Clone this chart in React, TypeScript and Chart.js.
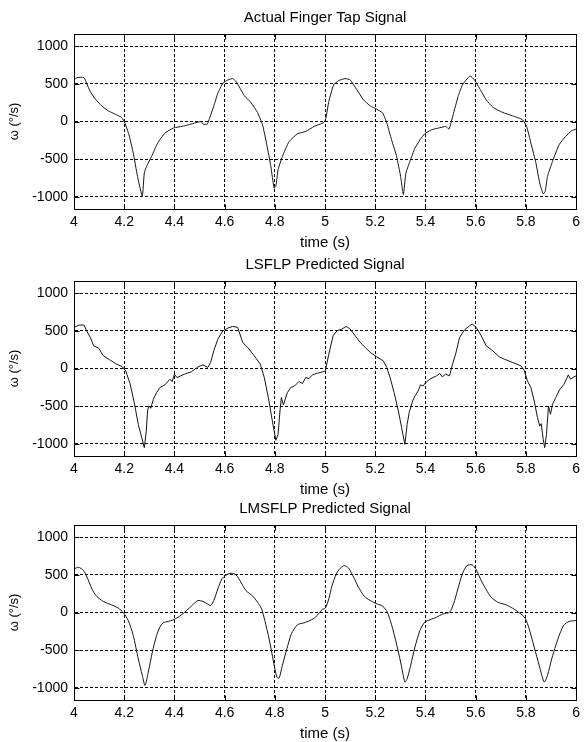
import React, { useEffect, useRef } from 'react';
import { Chart, registerables } from 'chart.js';

Chart.register(...registerables);

const xTicks = [4, 4.2, 4.4, 4.6, 4.8, 5, 5.2, 5.4, 5.6, 5.8, 6];
const yTicks = [-1000, -500, 0, 500, 1000];
const titles = ['Actual Finger Tap Signal', 'LSFLP Predicted Signal', 'LMSFLP Predicted Signal'];
const xLabel = 'time (s)';
const yLabel = 'ω (°/s)';

const actualT = [
  4.000, 4.012, 4.040, 4.050, 4.065, 4.082, 4.110, 4.137, 4.164, 4.190,
  4.203, 4.219, 4.236, 4.253, 4.272, 4.280, 4.289, 4.309, 4.333, 4.362,
  4.395, 4.441, 4.480, 4.507, 4.514, 4.531, 4.540, 4.557, 4.573, 4.593,
  4.613, 4.632, 4.646, 4.665, 4.679, 4.705, 4.731, 4.751, 4.768, 4.784,
  4.797, 4.804, 4.813, 4.830, 4.857, 4.890, 4.923, 4.956, 4.995, 5.003,
  5.015, 5.034, 5.054, 5.080, 5.100, 5.127, 5.153, 5.180, 5.206, 5.230,
  5.246, 5.265, 5.285, 5.301, 5.312, 5.322, 5.338, 5.358, 5.378, 5.397,
  5.424, 5.450, 5.481, 5.494, 5.510, 5.530, 5.547, 5.562, 5.578, 5.595,
  5.615, 5.642, 5.668, 5.708, 5.747, 5.787, 5.803, 5.820, 5.840, 5.855,
  5.869, 5.877, 5.886, 5.906, 5.932, 5.958, 5.982, 6.000,
];
const actualW = [
  551, 582, 582, 507, 397, 309, 207, 141, 97, 53,
  -22, -176, -419, -728, -992, -684, -595, -463, -287, -154,
  -88, -57, -22, 0, -35, -35, 44, 207, 375, 507,
  551, 569, 529, 419, 340, 251, 119, -44, -309, -595,
  -882, -860, -640, -463, -265, -163, -132, -66, -13, 40,
  265, 485, 542, 569, 551, 419, 287, 207, 163, 110,
  -22, -243, -463, -728, -970, -684, -529, -353, -243, -163,
  -110, -88, -66, -101, 88, 331, 485, 551, 604, 551,
  441, 287, 190, 119, 75, 22, -66, -287, -551, -816,
  -961, -926, -728, -529, -309, -198, -123, -101,
];

const lsflpT = [
  4.000, 4.020, 4.040, 4.050, 4.065, 4.078, 4.098, 4.117, 4.144, 4.170,
  4.193, 4.206, 4.223, 4.240, 4.256, 4.270, 4.280, 4.288, 4.293, 4.298,
  4.306, 4.316, 4.329, 4.342, 4.362, 4.382, 4.391, 4.400, 4.410, 4.425,
  4.440, 4.467, 4.494, 4.514, 4.533, 4.544, 4.557, 4.573, 4.593, 4.613,
  4.632, 4.652, 4.672, 4.692, 4.718, 4.742, 4.758, 4.774, 4.790, 4.804,
  4.813, 4.821, 4.826, 4.834, 4.850, 4.863, 4.879, 4.896, 4.910, 4.923,
  4.936, 4.950, 4.966, 4.995, 5.001, 5.015, 5.032, 5.048, 5.067, 5.084,
  5.100, 5.120, 5.140, 5.160, 5.180, 5.206, 5.232, 5.246, 5.259, 5.275,
  5.292, 5.305, 5.318, 5.327, 5.335, 5.349, 5.358, 5.371, 5.380, 5.391,
  5.401, 5.417, 5.430, 5.444, 5.457, 5.467, 5.480, 5.496, 5.507, 5.520,
  5.536, 5.556, 5.576, 5.586, 5.602, 5.622, 5.642, 5.668, 5.694, 5.714,
  5.747, 5.780, 5.793, 5.806, 5.820, 5.833, 5.846, 5.855, 5.861, 5.869,
  5.875, 5.882, 5.890, 5.898, 5.906, 5.919, 5.935, 5.952, 5.969, 5.978,
  5.987, 6.000,
];
const lsflpW = [
  545, 576, 576, 500, 412, 301, 270, 168, 111, 58,
  22, -31, -199, -452, -740, -917, -1050, -828, -563, -496,
  -527, -408, -319, -253, -217, -142, -173, -75, -120, -97,
  -75, -44, 22, 49, 13, 80, 235, 390, 500, 536,
  558, 545, 345, 279, 168, 58, -120, -385, -695, -952,
  -873, -540, -385, -483, -319, -253, -230, -173, -199, -120,
  -133, -84, -66, -40, -31, 190, 434, 500, 523, 558,
  523, 434, 345, 279, 213, 155, 102, 13, -120, -319,
  -563, -784, -1006, -740, -585, -430, -363, -297, -217, -230,
  -186, -142, -120, -97, -66, -111, -75, -97, 49, 190,
  412, 514, 567, 589, 545, 434, 301, 235, 155, 124,
  80, 35, -22, -164, -253, -430, -651, -762, -731, -939,
  -1050, -873, -496, -607, -474, -385, -275, -208, -84, -142,
  -120, -97,
];

const lmsflpT = [
  4.000, 4.018, 4.038, 4.055, 4.071, 4.090, 4.117, 4.150, 4.177, 4.197,
  4.216, 4.236, 4.256, 4.272, 4.283, 4.296, 4.312, 4.329, 4.342, 4.355,
  4.375, 4.395, 4.415, 4.441, 4.467, 4.494, 4.514, 4.531, 4.544, 4.557,
  4.573, 4.589, 4.606, 4.626, 4.646, 4.665, 4.685, 4.712, 4.731, 4.747,
  4.760, 4.777, 4.795, 4.808, 4.817, 4.830, 4.848, 4.866, 4.890, 4.916,
  4.940, 4.962, 4.989, 5.001, 5.015, 5.028, 5.045, 5.061, 5.077, 5.094,
  5.114, 5.133, 5.156, 5.180, 5.206, 5.230, 5.248, 5.265, 5.283, 5.301,
  5.318, 5.327, 5.341, 5.358, 5.378, 5.397, 5.418, 5.444, 5.470, 5.496,
  5.512, 5.529, 5.547, 5.565, 5.586, 5.602, 5.622, 5.642, 5.661, 5.688,
  5.721, 5.747, 5.774, 5.797, 5.813, 5.833, 5.853, 5.873, 5.886, 5.903,
  5.919, 5.935, 5.952, 5.972, 6.000,
];
const lmsflpW = [
  578, 600, 556, 445, 313, 216, 146, 101, 57, -4,
  -106, -304, -613, -833, -966, -789, -525, -304, -194, -137,
  -119, -97, -62, 4, 84, 159, 146, 115, 93, 159,
  313, 445, 498, 520, 498, 401, 291, 216, 137, 49,
  -106, -348, -657, -856, -869, -701, -481, -282, -163, -137,
  -106, -62, 40, 57, 181, 357, 512, 587, 622, 587,
  467, 335, 216, 159, 115, 84, 4, -163, -392, -657,
  -922, -878, -701, -459, -238, -128, -97, -62, -18, 4,
  115, 313, 512, 622, 631, 569, 423, 304, 203, 137,
  101, 57, -4, -75, -216, -459, -701, -922, -833, -613,
  -437, -282, -163, -119, -106,
];

const FONT = '"Liberation Sans", Arial, Helvetica, sans-serif';

type PanelProps = { title: string; ts: number[]; ws: number[]; top: number; tension: number };

function Panel({ title, ts, ws, top, tension }: PanelProps) {
  const ref = useRef<HTMLCanvasElement>(null);
  useEffect(() => {
    const canvas = ref.current;
    if (!canvas) return;
    const points = ts.map((t, i) => ({ x: t, y: ws[i] }));
    const framePlugin = {
      id: 'frame',
      afterDraw(chart: any) {
        const { ctx, chartArea } = chart;
        const { left, right, top: t, bottom } = chartArea;
        ctx.save();
        ctx.strokeStyle = '#000';
        ctx.lineWidth = 1;
        ctx.setLineDash([]);
        const L = Math.round(left) + 0.5;
        const R = Math.round(right) + 0.5;
        const T = Math.round(t) + 0.5;
        const B = Math.round(bottom) + 0.5;
        ctx.strokeRect(L, T, R - L, B - T);
        const xs = chart.scales.x;
        const ys = chart.scales.y;
        ctx.beginPath();
        xTicks.forEach((v) => {
          const px = Math.round(xs.getPixelForValue(v)) + 0.5;
          ctx.moveTo(px, B);
          ctx.lineTo(px, B - 5);
          ctx.moveTo(px, T);
          ctx.lineTo(px, T + 5);
        });
        yTicks.forEach((v) => {
          const py = Math.round(ys.getPixelForValue(v)) + 0.5;
          ctx.moveTo(L, py);
          ctx.lineTo(L + 5, py);
          ctx.moveTo(R, py);
          ctx.lineTo(R - 5, py);
        });
        ctx.stroke();
        ctx.fillStyle = '#000';
        ctx.font = '15px ' + FONT;
        ctx.textAlign = 'center';
        ctx.textBaseline = 'middle';
        ctx.fillText(title, (left + right) / 2, t - 16.5);
        ctx.restore();
      },
    };
    const chart = new Chart(canvas, {
      type: 'line',
      data: {
        datasets: [
          {
            data: points,
            borderColor: '#141414',
            borderWidth: 1,
            pointRadius: 0,
            tension,
            fill: false,
          },
        ],
      },
      options: {
        responsive: false,
        animation: false,
        events: [],
        layout: { padding: { top: 34, left: 0, right: 5, bottom: 0 } },
        plugins: { legend: { display: false }, tooltip: { enabled: false }, title: { display: false } },
        scales: {
          x: {
            type: 'linear',
            min: 4,
            max: 6,
            afterBuildTicks: (scale: any) => {
              scale.ticks = xTicks.map((v) => ({ value: v }));
            },
            afterFit: (scale: any) => {
              scale.height = 41;
            },
            grid: { color: '#000', lineWidth: 1, drawTicks: false },
            border: { display: true, color: '#000', width: 1, dash: [3, 2] },
            ticks: {
              autoSkip: false,
              maxRotation: 0,
              padding: 5,
              color: '#000',
              font: { family: FONT, size: 14 },
              callback: (v: any) => String(Math.round(Number(v) * 10) / 10),
            },
            title: {
              display: true,
              text: xLabel,
              color: '#000',
              font: { family: FONT, size: 15, lineHeight: 1 },
              padding: { top: 0, bottom: 0 },
            },
          },
          y: {
            type: 'linear',
            min: -1160,
            max: 1160,
            afterBuildTicks: (scale: any) => {
              scale.ticks = yTicks.map((v) => ({ value: v }));
            },
            afterFit: (scale: any) => {
              scale.width = 74;
            },
            grid: { color: '#000', lineWidth: 1, drawTicks: false },
            border: { display: true, color: '#000', width: 1, dash: [3, 2] },
            ticks: {
              padding: 6,
              color: '#000',
              font: { family: FONT, size: 14 },
              callback: (v: any) => String(v),
            },
            title: {
              display: true,
              text: yLabel,
              color: '#000',
              font: { family: FONT, size: 13, lineHeight: 1.2 },
              padding: { top: 7, bottom: 0 },
            },
          },
        },
      },
      plugins: [framePlugin],
    });
    return () => chart.destroy();
  }, [title, ts, ws, tension]);
  return (
    <canvas
      ref={ref}
      width={585}
      height={250}
      style={{ position: 'absolute', left: 0, top, width: 585, height: 250 }}
    />
  );
}

export default function App() {
  return (
    <div style={{ position: 'absolute', left: 0, top: 0, width: 585, height: 742, background: '#fff' }}>
      <Panel title={titles[0]} ts={actualT} ws={actualW} top={0} tension={0.15} />
      <Panel title={titles[1]} ts={lsflpT} ws={lsflpW} top={247} tension={0} />
      <Panel title={titles[2]} ts={lmsflpT} ws={lmsflpW} top={491} tension={0.25} />
    </div>
  );
}
